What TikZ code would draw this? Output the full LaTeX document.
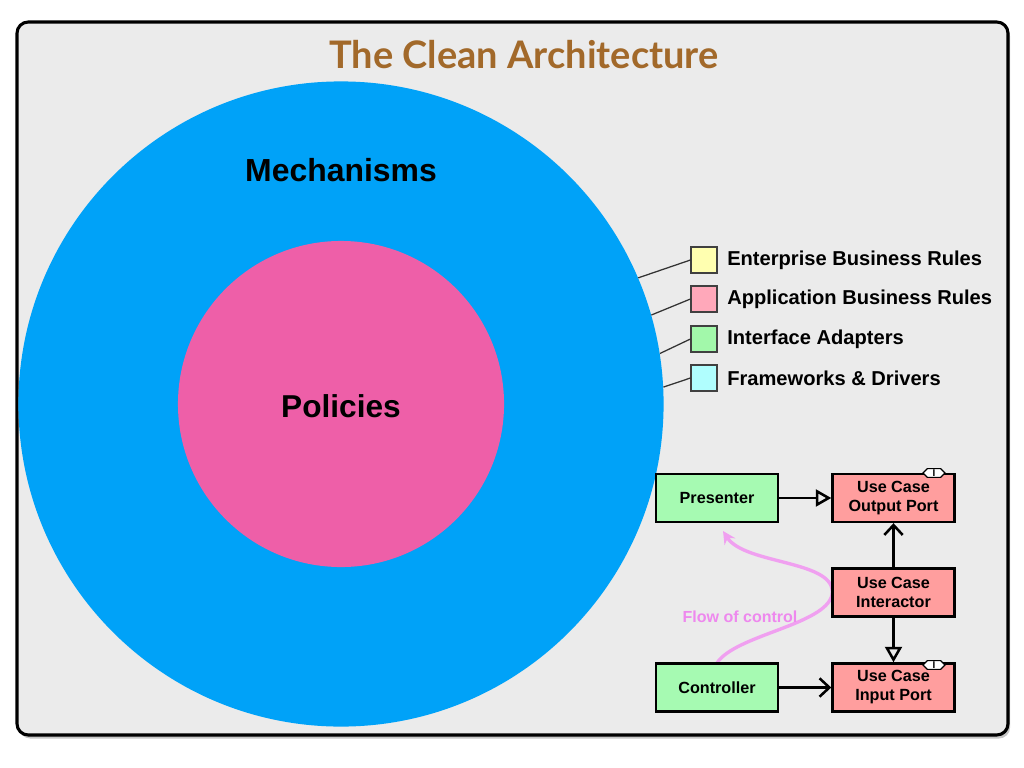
\documentclass[tikz,border=0pt]{standalone}
\usepackage{fontspec}
\setmainfont{Liberation Sans}
\newfontfamily\titlefont{Lato}
\usetikzlibrary{arrows.meta,positioning,shadows,shapes.symbols}
\definecolor{frameGray}{HTML}{EBEBEB}
\definecolor{mechBlue}{HTML}{00A2F8}
\definecolor{policyPink}{HTML}{EE5FA8}
\definecolor{titleBrown}{HTML}{A2692A}
\definecolor{entYellow}{HTML}{FFFFB0}
\definecolor{appPink}{HTML}{FFA8BA}
\definecolor{ifaceGreen}{HTML}{A2F8AA}
\definecolor{fwCyan}{HTML}{B0FEFE}
\definecolor{boxGreen}{HTML}{A6FAB2}
\definecolor{boxRed}{HTML}{FF9E9E}
\definecolor{flowPink}{HTML}{F0A0F0}
\definecolor{flowText}{HTML}{EE88EE}

\begin{document}
\begin{tikzpicture}[x=0.025cm,y=-0.025cm,font=\bfseries]
	\tikzstyle{legendbox} = [draw=black!75,line width=0.8pt,fill=white,minimum size=0.65cm,inner sep=0pt]
	\tikzstyle{legendtext} = [anchor=west,inner sep=0pt,font=\fontsize{14.3}{16}\selectfont\bfseries]
	\tikzstyle{ucbox} = [draw,line width=1.7pt,minimum width=3.05cm,minimum height=1.2cm,align=center,font=\fontsize{11.5}{13.5}\selectfont\bfseries]
	\tikzstyle{iface} = [draw,line width=0.8pt,fill=white,signal,signal to=east and west,minimum width=0.55cm,minimum height=0.22cm,inner xsep=1pt,inner ysep=0pt,font=\fontsize{7}{7}\selectfont\bfseries]
	\useasboundingbox (0,0) rectangle (1024,768);
	
	% frame
	\draw[line width=2.2pt,fill=frameGray,rounded corners=0.28cm,drop shadow={shadow xshift=1.5pt,shadow yshift=-2.5pt,opacity=0.45}] (17,22) rectangle (1008,735);
	\node[text=titleBrown,font=\titlefont\bfseries\fontsize{27}{30}\selectfont] (title) at (524,55) {The Clean Architecture};
	
	% circles
	\node[circle,fill=mechBlue,minimum size=16.125cm,inner sep=0pt] (mech) at (341,404) {};
	\node[circle,fill=policyPink,minimum size=8.15cm,inner sep=0pt] (policy) at (341,404) {};
	\node[font=\fontsize{22.7}{26}\selectfont\bfseries] (mechLabel) at (341,170) {Mechanisms};
	\node[font=\fontsize{22.5}{26}\selectfont\bfseries] (policyLabel) at (341,406) {Policies};
	
	% legend
	\node[legendbox,fill=entYellow] (ebr) at (704,260) {};
	\node[legendbox,fill=appPink] (abr) at (704,299) {};
	\node[legendbox,fill=ifaceGreen] (ia) at (704,339) {};
	\node[legendbox,fill=fwCyan] (fd) at (704,378) {};
	\node[legendtext] (ebrText) at (727,260) {Enterprise Business Rules};
	\node[legendtext] (abrText) at (727,299) {Application Business Rules};
	\node[legendtext] (iaText) at (727,339) {Interface Adapters};
	\node[legendtext] (fdText) at (727,378) {Frameworks \& Drivers};
	\draw[black!80,line width=0.9pt] (mech.23) -- (ebr.west);
	\draw[black!80,line width=0.9pt] (mech.16) -- (abr.west);
	\draw[black!80,line width=0.9pt] (mech.9) -- (ia.west);
	\draw[black!80,line width=0.9pt] (mech.3) -- (fd.west);
	
	% flow of control
	\coordinate (flowEnd) at (723,531);
	\coordinate (flowTurn) at (832,595);
	\draw[flowPink,line width=2.4pt,-{Stealth[length=9pt,width=9pt]}] (717,663) .. controls (735,635) and (825,625) .. (flowTurn) .. controls (838,560) and (745,565) .. (flowEnd);
	\node[text=flowText,font=\fontsize{11.4}{13}\selectfont\bfseries] (flowLabel) at (740,617) {Flow of control};
	
	% use case boxes
	\node[ucbox,fill=boxGreen] (pres) at (717,498) {Presenter};
	\node[ucbox,fill=boxRed] (outPort) at (893.5,498) {Use Case\\Output Port};
	\node[ucbox,fill=boxRed] (interactor) at (893.5,592.5) {Use Case\\Interactor};
	\node[ucbox,fill=boxGreen] (ctrl) at (717,687.5) {Controller};
	\node[ucbox,fill=boxRed] (inPort) at (893.5,687.5) {Use Case\\Input Port};
	\node[iface] (outI) at (934,473) {I};
	\node[iface] (inI) at (934,665) {I};
	
	\draw[line width=1.8pt,-{Triangle[open,length=11pt,width=12pt]}] (pres.east) -- (outPort.west);
	\draw[line width=1.8pt,-{Straight Barb[length=7pt,width=13pt]}] (interactor.north) -- (outPort.south);
	\draw[line width=1.8pt,-{Triangle[open,length=11pt,width=12pt]}] (interactor.south) -- (inPort.north);
	\draw[line width=1.8pt,-{Straight Barb[length=7pt,width=13pt]}] (ctrl.east) -- (inPort.west);
\end{tikzpicture}
\end{document}
